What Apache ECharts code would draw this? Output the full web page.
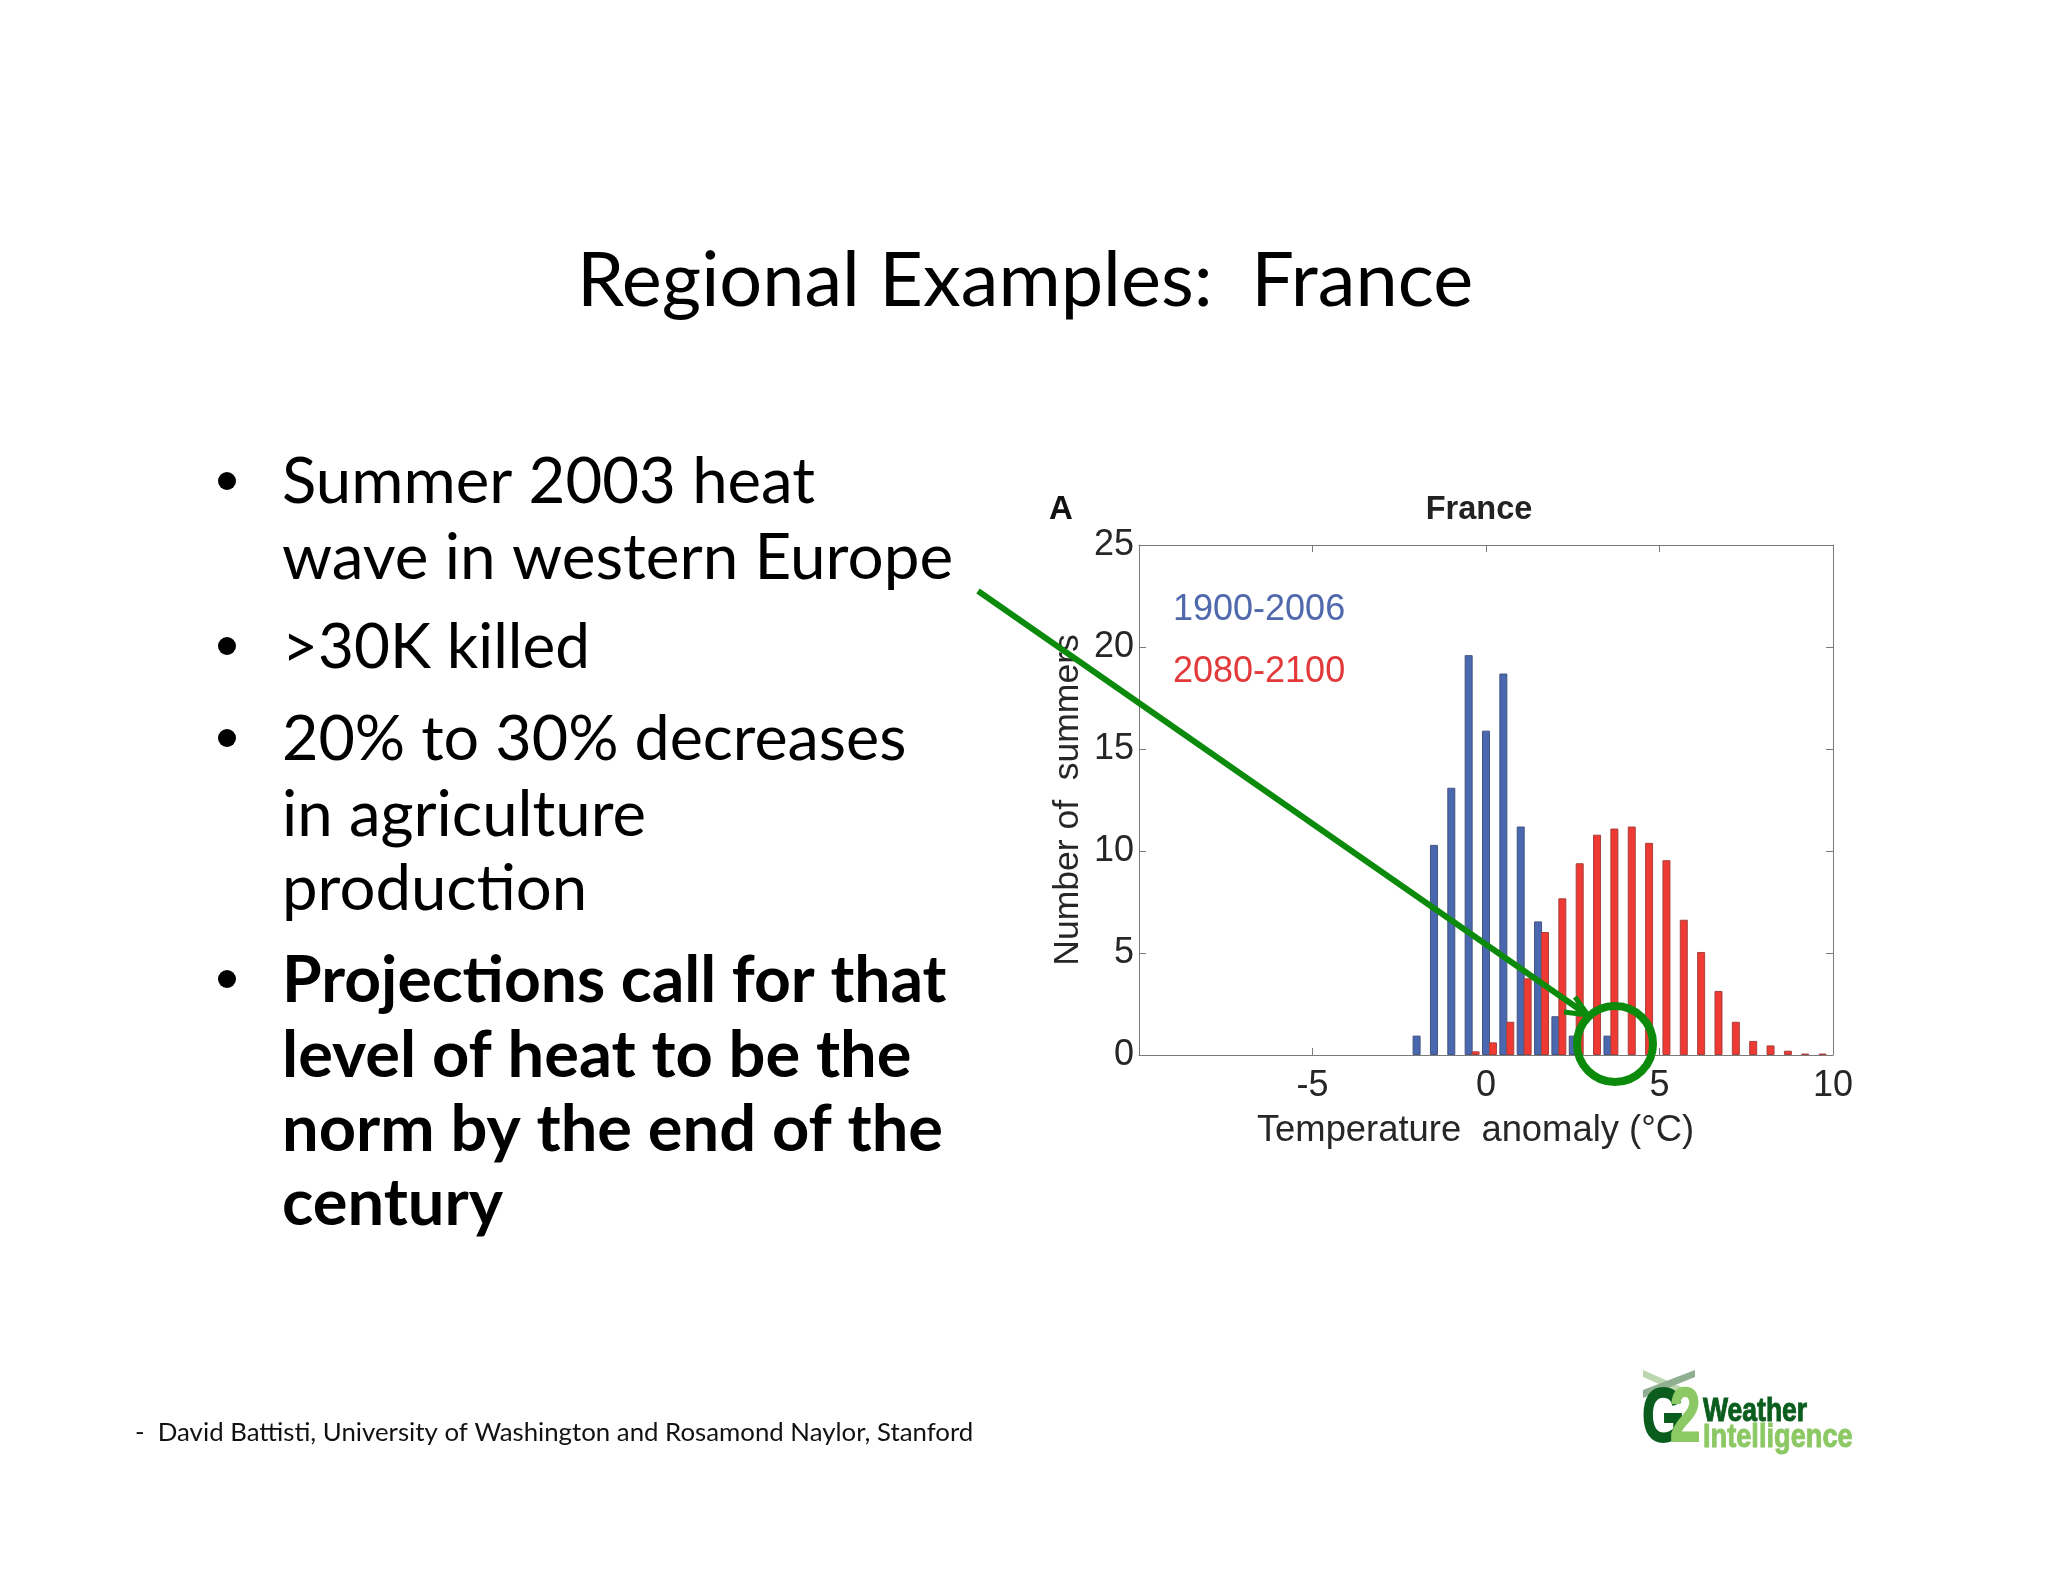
<!DOCTYPE html>
<html>
<head>
<meta charset="utf-8">
<title>Regional Examples: France</title>
<script src="https://cdn.jsdelivr.net/npm/echarts@6/dist/echarts.min.js"></script>
<style>
html,body{margin:0;padding:0;background:#fff;}
#main{width:2048px;height:1582px;}
</style>
</head>
<body>
<div id="main"></div>
<script>
var blueYears = '1900-2006';
var redYears = '2080-2100';
var blueX = [-2, -1.5, -1, -0.5, 0, 0.5, 1, 1.5, 2, 2.5, 3.5];
var blueValues = [0.95, 10.3, 13.1, 19.6, 15.9, 18.7, 11.2, 6.55, 1.9, 0.95, 0.95];
var redX = [-0.3, 0.2, 0.7, 1.2, 1.7, 2.2, 2.7, 3.2, 3.7, 4.2, 4.7, 5.2, 5.7, 6.2, 6.7, 7.2, 7.7, 8.2, 8.7, 9.2, 9.7];
var redValues = [0.18, 0.62, 1.63, 3.76, 6.03, 7.68, 9.4, 10.8, 11.1, 11.2, 10.4, 9.55, 6.63, 5.05, 3.14, 1.63, 0.69, 0.47, 0.21, 0.07, 0.07];

var bulletLines = [
	{text: 'Summer 2003 heat', y: 483, size: 63.5, dot: true},
	{text: 'wave in western Europe', y: 558, size: 63.8},
	{text: '>30K killed', y: 648, size: 62, dot: true},
	{text: '20% to 30% decreases', y: 740, size: 62.8, dot: true},
	{text: 'in agriculture', y: 816, size: 63.5},
	{text: 'production', y: 890, size: 63.5},
	{text: 'Projections call for that', y: 981, size: 64.2, dot: true, bold: true},
	{text: 'level of heat to be the', y: 1056, size: 65, bold: true},
	{text: 'norm by the end of the', y: 1130, size: 65, bold: true},
	{text: 'century', y: 1204, size: 65, bold: true}
];
var footer = '-  David Battisti, University of Washington and Rosamond Naylor, Stanford';

function pairs(xs, ys){
	return xs.map(function(x, i){ return [x, ys[i]]; });
}

var graphics = [];

bulletLines.forEach(function(l){
	graphics.push({
		type: 'text', z: 5,
		style: {
			text: l.text, x: 282, y: l.y,
			font: (l.bold ? 'bold ' : '') + l.size + 'px Lato',
			fill: '#000', textVerticalAlign: 'middle'
		}
	});
	if (l.dot) {
		graphics.push({type: 'circle', z: 5, shape: {cx: 227, cy: l.y - 2, r: 9}, style: {fill: '#000'}});
	}
});

graphics.push({
	type: 'text', z: 5,
	style: {text: footer, x: 135, y: 1433, font: '25.8px Lato', fill: '#111', textVerticalAlign: 'middle'}
});
graphics.push({
	type: 'text', z: 5,
	style: {text: 'A', x: 1061, y: 510, font: 'bold 33px "Liberation Sans"', fill: '#111', textAlign: 'center', textVerticalAlign: 'middle'}
});

// green arrow and circle drawn over the figure
graphics.push({type: 'line', z: 20, shape: {x1: 978, y1: 591, x2: 1586, y2: 1014}, style: {stroke: '#0c8a0c', lineWidth: 6}});
graphics.push({type: 'polyline', z: 20, shape: {points: [[1575, 997], [1588, 1015], [1564, 1012]]}, style: {stroke: '#0c8a0c', lineWidth: 5, fill: 'none'}});
graphics.push({type: 'circle', z: 20, shape: {cx: 1615, cy: 1044, r: 38}, style: {stroke: '#0c8a0c', lineWidth: 8, fill: 'none'}});

// logo
graphics.push({type: 'polygon', z: 5, shape: {points: [[1643, 1370], [1695, 1393], [1695, 1400], [1643, 1377]]}, style: {fill: '#bcd6b0'}});
graphics.push({type: 'polygon', z: 5, shape: {points: [[1643, 1390], [1695, 1370], [1695, 1377], [1643, 1398]]}, style: {fill: '#8fae92'}});
graphics.push({type: 'text', z: 6, scaleX: 0.72, x: 1642, y: 1458, style: {text: 'G', x: 0, y: 0, font: 'bold 76px "Liberation Sans"', fill: '#0b5d1e', stroke: '#0b5d1e', lineWidth: 2, textVerticalAlign: 'bottom'}});
graphics.push({type: 'text', z: 6, scaleX: 0.72, x: 1670, y: 1458, style: {text: '2', x: 0, y: 0, font: 'bold 76px "Liberation Sans"', fill: '#8cc864', stroke: '#8cc864', lineWidth: 2, textVerticalAlign: 'bottom'}});
graphics.push({type: 'text', z: 6, scaleX: 0.78, x: 1703, y: 1429, style: {text: 'Weather', x: 0, y: 0, font: 'bold 34px "Liberation Sans"', fill: '#0b5d1e', stroke: '#0b5d1e', lineWidth: 1, textVerticalAlign: 'bottom'}});
graphics.push({type: 'text', z: 6, scaleX: 0.8, x: 1703, y: 1455, style: {text: 'Intelligence', x: 0, y: 0, font: 'bold 34px "Liberation Sans"', fill: '#8cc864', stroke: '#8cc864', lineWidth: 1, textVerticalAlign: 'bottom'}});

var chart = echarts.init(document.getElementById('main'));
var axisColor = '#7a7a7a';
var textColor = '#262626';

chart.setOption({
	backgroundColor: '#fff',
	animation: false,
	title: [
		{text: 'Regional Examples:  France', left: 1020, top: 239, textAlign: 'center',
			textStyle: {fontFamily: 'Lato', fontSize: 75.7, fontWeight: 'normal', color: '#000'}},
		{text: 'France', left: 1474, top: 489, textAlign: 'center',
			textStyle: {fontFamily: 'Liberation Sans', fontSize: 32.5, fontWeight: 'bold', color: '#222'}}
	],
	legend: {
		left: 1162, top: 587, orient: 'vertical', itemGap: 26, itemWidth: 0, itemHeight: 0, icon: 'rect',
		selectedMode: false,
		data: [
			{name: blueYears, textStyle: {color: '#5068ac'}},
			{name: redYears, textStyle: {color: '#e2393a'}}
		],
		textStyle: {fontFamily: 'Liberation Sans', fontSize: 36, padding: 0}
	},
	grid: {left: 1139, top: 545, width: 694, height: 510, show: false},
	xAxis: [
		{
			type: 'value', min: -10, max: 10, interval: 5,
			splitLine: {show: false},
			axisLine: {onZero: false, lineStyle: {color: axisColor}},
			axisTick: {inside: true, length: 7, lineStyle: {color: axisColor}},
			axisLabel: {fontFamily: 'Liberation Sans', fontSize: 36, color: textColor, margin: 13, showMinLabel: false},
			name: 'Temperature  anomaly (°C)', nameLocation: 'middle', nameGap: 58,
			nameTextStyle: {fontFamily: 'Liberation Sans', fontSize: 36.4, color: textColor, padding: [0, 21, 0, 0]}
		},
		{
			type: 'value', position: 'top', min: -10, max: 10, interval: 5,
			splitLine: {show: false}, axisLabel: {show: false},
			axisLine: {onZero: false, lineStyle: {color: axisColor}},
			axisTick: {inside: true, length: 7, lineStyle: {color: axisColor}}
		}
	],
	yAxis: [
		{
			type: 'value', min: 0, max: 25, interval: 5,
			splitLine: {show: false},
			axisLine: {show: true, onZero: false, lineStyle: {color: axisColor}},
			axisTick: {show: true, inside: true, length: 7, lineStyle: {color: axisColor}},
			axisLabel: {fontFamily: 'Liberation Sans', fontSize: 36, color: textColor, margin: 5},
			name: 'Number of  summers', nameLocation: 'middle', nameGap: 53,
			nameTextStyle: {fontFamily: 'Liberation Sans', fontSize: 35.5, color: textColor}
		},
		{
			type: 'value', position: 'right', min: 0, max: 25, interval: 5,
			splitLine: {show: false}, axisLabel: {show: false},
			axisLine: {show: true, onZero: false, lineStyle: {color: axisColor}},
			axisTick: {show: true, inside: true, length: 7, lineStyle: {color: axisColor}}
		}
	],
	series: [
		{
			name: blueYears, type: 'bar', barWidth: 8, barGap: '-100%', z: 2,
			itemStyle: {color: '#4a68b0', borderColor: '#43547f', borderWidth: 1},
			data: pairs(blueX, blueValues)
		},
		{
			name: redYears, type: 'bar', barWidth: 8, barGap: '-100%', z: 3,
			itemStyle: {color: '#ee3a32', borderColor: '#a8403c', borderWidth: 1},
			data: pairs(redX, redValues)
		}
	],
	graphic: graphics
});
</script>
</body>
</html>
